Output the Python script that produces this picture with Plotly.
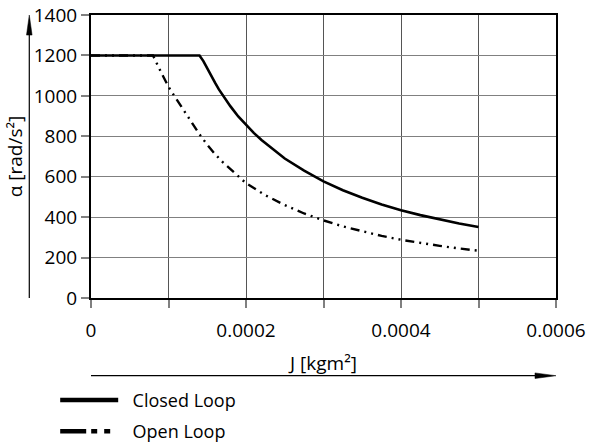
import plotly.graph_objects as go

# Data
closed_J = [0, 0.00014, 0.000145, 0.00015, 0.000155, 0.00016, 0.000165, 0.00017,
            0.000175, 0.00018, 0.00019, 0.0002, 0.00021, 0.00022, 0.00023,
            0.00024, 0.00025, 0.000275, 0.0003, 0.000325, 0.00035, 0.000375,
            0.0004, 0.000425, 0.00045, 0.000475, 0.0005]
closed_alpha = [1200, 1200, 1172, 1135, 1098, 1065, 1032, 1002,
                975, 948, 898, 855, 817, 782, 750,
                718, 690, 630, 577, 533, 496, 463,
                434, 410, 388, 369, 351]

open_J = [0, 0.00008, 0.00009, 0.0001, 0.00011, 0.00012, 0.00013, 0.00014,
          0.00015, 0.00016, 0.00017, 0.00018, 0.00019, 0.0002, 0.000225,
          0.00025, 0.000275, 0.0003, 0.000325, 0.00035, 0.000375, 0.0004,
          0.000425, 0.00045, 0.000475, 0.0005]
open_alpha = [1200, 1200, 1120, 1045, 985, 928, 865, 810,
              758, 712, 672, 636, 600, 568, 508,
              460, 418, 384, 354, 329, 307, 288,
              272, 258, 245, 234]

x_tickvals = [0, 0.0001, 0.0002, 0.0003, 0.0004, 0.0005, 0.0006]
x_ticktext = ["0", "", "0.0002", "", "0.0004", "", "0.0006"]
y_tickvals = [0, 200, 400, 600, 800, 1000, 1200, 1400]

FONT = "Open Sans"
OPEN_DASH = "9px,5px,2px,5px,2px,5px"
NB = "\u00a0\u00a0"

fig = go.Figure()
fig.add_trace(go.Scatter(x=closed_J, y=closed_alpha, mode="lines",
                         line=dict(color="black", width=2.6),
                         showlegend=False, hoverinfo="skip"))
fig.add_trace(go.Scatter(x=open_J, y=open_alpha, mode="lines",
                         line=dict(color="black", width=2.4, dash=OPEN_DASH),
                         showlegend=False, hoverinfo="skip"))
# legend proxies (thicker lines as in the reference legend)
fig.add_trace(go.Scatter(x=[None], y=[None], mode="lines", name=NB + "Closed Loop",
                         legendgroup="a",
                         line=dict(color="black", width=4.5)))
fig.add_trace(go.Scatter(x=[None], y=[None], mode="lines", name=NB + "Open Loop",
                         legendgroup="b",
                         line=dict(color="black", width=4.5,
                                   dash="26px,5px,6px,7px,6px,30px")))

axis_common = dict(
    showline=True, linecolor="black", linewidth=2, mirror=True,
    ticks="outside", ticklen=8, tickcolor="#808080", tickwidth=1.5,
    tickfont=dict(family=FONT, size=19, color="black"),
    zeroline=False, automargin=False,
)

fig.update_xaxes(
    range=[0, 0.0006], tickvals=x_tickvals, ticktext=x_ticktext,
    showgrid=True, gridcolor="#555555", gridwidth=1,
    ticklabelstandoff=6,
    title=dict(text="J [kgm²]", font=dict(family=FONT, size=19, color="black"),
               standoff=15),
    **axis_common,
)
fig.update_yaxes(
    range=[0, 1400], tickvals=y_tickvals,
    showgrid=True, gridcolor="#808080", gridwidth=1.4,
    title=dict(text="α [rad/s²]", font=dict(family=FONT, size=19, color="black"),
               standoff=6),
    **axis_common,
)

# axis arrows (decoration, paper coordinates)
ya_x = -0.1327
xa_y = -0.2746
shapes = [
    dict(type="line", xref="paper", yref="paper", x0=ya_x, x1=ya_x, y0=0, y1=0.95,
         line=dict(color="black", width=1.2)),
    dict(type="path", xref="paper", yref="paper",
         path=f"M{ya_x-0.006},0.929 L{ya_x},1 L{ya_x+0.006},0.929 Z",
         fillcolor="black", line=dict(color="black", width=0.5)),
    dict(type="line", xref="paper", yref="paper", x0=0, x1=0.97, y0=xa_y, y1=xa_y,
         line=dict(color="black", width=1.2)),
    dict(type="path", xref="paper", yref="paper",
         path=f"M0.9548,{xa_y+0.0099} L1,{xa_y} L0.9548,{xa_y-0.0099} Z",
         fillcolor="black", line=dict(color="black", width=0.5)),
]

fig.update_layout(
    width=593, height=445,
    margin=dict(l=91, r=37, t=15, b=147, autoexpand=False),
    paper_bgcolor="white", plot_bgcolor="white",
    font=dict(family=FONT, color="black"),
    shapes=shapes,
    showlegend=True,
    legend=dict(x=-0.077, xanchor="left", y=-0.296, yanchor="top",
                orientation="v", itemwidth=58, tracegroupgap=5,
                font=dict(family=FONT, size=18, color="black"),
                bgcolor="rgba(0,0,0,0)"),
)

fig.write_html("out.html",
               config={"displayModeBar": False},
               post_script="document.body.style.margin='0';"
                           "document.body.style.padding='0';")
